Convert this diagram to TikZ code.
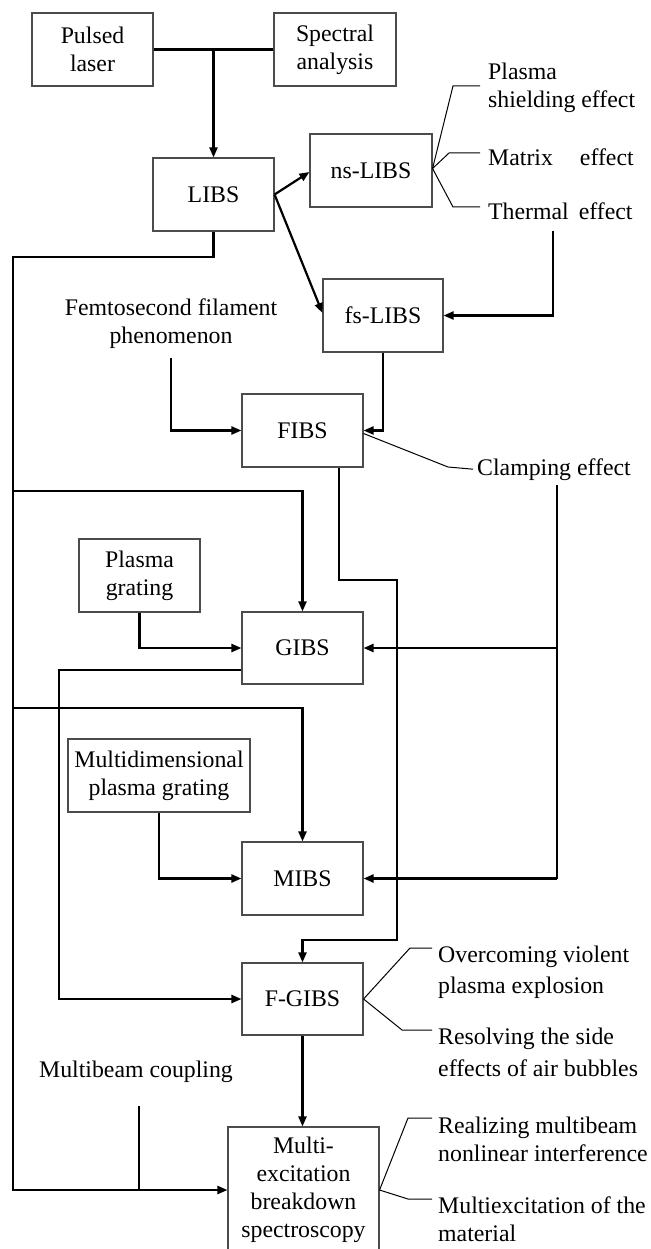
\documentclass[tikz,border=0pt]{standalone}
\usepackage{fontspec}
\setmainfont{Liberation Serif}
\usetikzlibrary{arrows.meta,calc}
\begin{document}
\begin{tikzpicture}[x=1pt,y=-1pt,
  txt/.style={font=\fontsize{23.8}{28}\selectfont, inner sep=0pt},
  box/.style={txt, draw=black!70, line width=1.1pt, align=center, minimum width=121pt, minimum height=73pt},
  lnk/.style={line width=2.2pt},
  conn/.style={line width=2.2pt, -{Triangle[length=10pt,width=8pt]}},
  callout/.style={line width=1pt}]
\useasboundingbox (0,0) rectangle (650,1249);
\clip (0,0) rectangle (650,1249);
% boxes
\node[box] (pulsed) at (92.5,49.5) {Pulsed\\laser};
\node[box, minimum width=122pt] (spectral) at (335,49.5) {Spectral\\analysis};
\node[box] (libs) at (213.5,194.5) {LIBS};
\node[box, minimum width=122pt] (ns) at (371,170.5) {ns-LIBS};
\node[box, minimum width=120pt] (fs) at (383,315.5) {fs-LIBS};
\node[box] (fibs) at (302.5,430.5) {FIBS};
\node[box] (pg) at (139.5,575.5) {Plasma\\grating};
\node[box, minimum height=72pt] (gibs) at (302.5,648) {GIBS};
\node[box, minimum width=182pt] (mpg) at (159,775.5) {Multidimensional\\plasma grating};
\node[box] (mibs) at (302.5,878.5) {MIBS};
\node[box, minimum height=72pt] (fgibs) at (302.5,999) {F-GIBS};
\node[box, minimum width=151pt, minimum height=126pt] (multi) at (303.5,1190) {Multi-\\excitation\\breakdown\\spectroscopy};
% free texts
\node[txt, font=\fontsize{23.8}{28.5}\selectfont, anchor=north west, align=left] (pse) at (488,62.7) {Plasma\\shielding effect};
\node[txt, anchor=base west] (me) at (488,166) {Matrix\hspace{27pt}effect};
\node[txt, anchor=base west] (te) at (488,219.3) {Thermal\hspace{10pt}effect};
\node[txt, anchor=base west] (ce) at (477,475) {Clamping effect};
\node[txt, font=\fontsize{23.8}{27.7}\selectfont, anchor=north, align=center] (ffp) at (171,298.7) {Femtosecond filament\\phenomenon};
\node[txt, anchor=base] (mbc) at (136,1077) {Multibeam coupling};
\node[txt, font=\fontsize{23.8}{31.5}\selectfont, anchor=north west, align=left] (ovc) at (438,945.4) {Overcoming violent\\plasma explosion};
\node[txt, font=\fontsize{23.8}{32}\selectfont, anchor=north west, align=left] (rsv) at (438,1027.7) {Resolving the side\\effects of air bubbles};
\node[txt, font=\fontsize{23.8}{27.5}\selectfont, anchor=north west, align=left] (rmb) at (438,1117) {Realizing multibeam\\nonlinear interference};
\node[txt, font=\fontsize{23.8}{27.5}\selectfont, anchor=north west, align=left] (mem) at (438,1197) {Multiexcitation of the\\material};
% coordinates for free ends
\coordinate (j1) at (pulsed.east -| libs.north);
\coordinate (tstart) at (553,231);
\coordinate (cstart) at (557,485);
\coordinate (mbcend) at (139,1106);
% connectors
\draw[lnk] (pulsed.east) -- (spectral.west);
\draw[conn] (j1) -- (libs.north);
\draw[conn] (libs.east) -- ([yshift=-1.5pt]ns.west);
\draw[conn] (libs.east) -- ([yshift=2.5pt]fs.west);
\draw[conn] (tstart) |- (fs.east);
\draw[conn] (fs.south) |- (fibs.east);
\draw[conn] ([yshift=-9pt]ffp.south) |- (fibs.west);
\draw[conn] ([xshift=36.5pt]fibs.south) |- (397,580) -- (397,940) -| (fgibs.north);
\draw[lnk] (cstart) -- (cstart |- mibs.east);
\draw[conn] (cstart |- gibs.east) -- (gibs.east);
\draw[conn] (cstart |- mibs.east) -- (mibs.east);
\draw[conn] (libs.south) |- (13,257) |- (multi.west);
\draw[conn] (13,491) -| (gibs.north);
\draw[conn] (13,708) -| (mibs.north);
\draw[conn] (pg.south) |- (gibs.west);
\draw[conn] ([yshift=-22pt]gibs.west) -| (59,850) |- (fgibs.west);
\draw[conn] (mpg.south) |- (mibs.west);
\draw[conn] (fgibs.south) -- (fgibs.south |- multi.north);
\draw[lnk] (mbcend) -- (mbcend |- multi.west);
% callouts
\draw[callout] ([yshift=2pt]ns.east) -- (453,86) -- (480,86);
\draw[callout] ([yshift=2pt]ns.east) -- (449,153) -- (480,153);
\draw[callout] ([yshift=2pt]ns.east) -- (453,207) -- (480,207);
\draw[callout] ([yshift=-3pt]fibs.east) -- (448,467) -- ([xshift=-4pt]ce.west);
\draw[callout] (fgibs.east) -- (410,948) -- (432,948);
\draw[callout] (fgibs.east) -- (402,1030) -- (432,1030);
\draw[callout] (multi.east) -- (408,1118) -- (432,1118);
\draw[callout] (multi.east) -- (408,1199) -- (432,1199);
\end{tikzpicture}
\end{document}
